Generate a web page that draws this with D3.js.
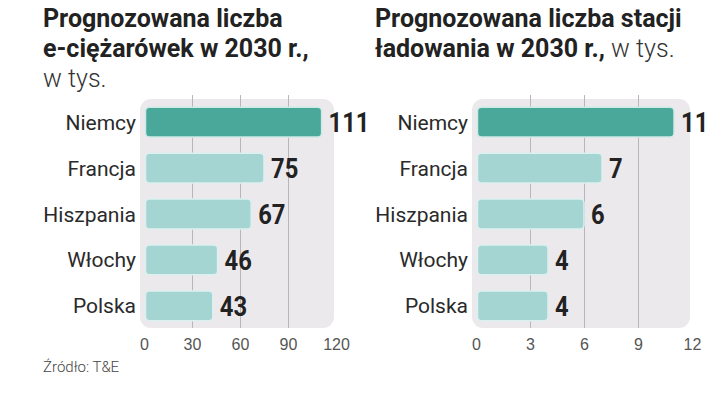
<!DOCTYPE html>
<html>
<head>
<meta charset="utf-8">
<style>
  html, body { margin: 0; padding: 0; background: #fff; }
  body { width: 720px; height: 395px; overflow: hidden; font-family: Roboto, "Noto Sans", sans-serif; }
  .title { font-size: 25px; font-weight: 700; fill: #222; }
  .title .light { font-weight: 300; fill: #333; }
  .cat { font-size: 21px; fill: #2a2a2a; }
  .val { font-family: Roboto, sans-serif; font-size: 27px; font-weight: 700; fill: #222; }
  .tick text { font-size: 16px; fill: #555; font-weight: 300; }
  .src { font-size: 15px; fill: #444; font-weight: 300; }
</style>
</head>
<body>
<script src="https://cdn.jsdelivr.net/npm/d3@7"></script>
<script>
  // data
  var countries = ["Niemcy", "Francja", "Hiszpania", "Włochy", "Polska"]
  var trucks = [111, 75, 67, 46, 43]
  var stations = [11, 7, 6, 4, 4]
  var truckTicks = [0, 30, 60, 90, 120]
  var stationTicks = [0, 3, 6, 9, 12]

  var width = 720, height = 395
  var svg = d3.select("body").append("svg")
      .attr("width", width)
      .attr("height", height)

  var y = d3.scaleBand()
      .domain(countries)
      .range([99, 329])
      .paddingInner(0.35)
      .paddingOuter(0.18)

  function panel(opts) {
    var x = d3.scaleLinear()
        .domain([0, opts.ticks[opts.ticks.length - 1]])
        .range(opts.range)

    var g = svg.append("g")

    // title
    var t = g.append("text").attr("class", "title")
    opts.title.forEach(function (line, i) {
      var ts = t.append("tspan").attr("x", opts.titleX).attr("y", 27 + i * 30)
      line.forEach(function (part) {
        ts.append("tspan").attr("class", part.light ? "light" : null).text(part.text)
      })
    })

    // background panel
    g.append("rect")
        .attr("x", x(0) - 4)
        .attr("y", 99)
        .attr("width", opts.range[1] - opts.range[0] + 2)
        .attr("height", 229)
        .attr("rx", 11)
        .attr("fill", "#ece9ed")

    // grid
    g.selectAll("line.grid")
        .data(opts.ticks.slice(1, -1))
        .enter().append("line")
        .attr("class", "grid")
        .attr("x1", d => x(d) + 0.5)
        .attr("x2", d => x(d) + 0.5)
        .attr("y1", 95)
        .attr("y2", 328)
        .attr("stroke", "#b9b6ba")
        .attr("stroke-width", 1)

    // axis
    var axis = g.append("g")
        .attr("transform", "translate(0,330)")
        .call(d3.axisBottom(x).tickValues(opts.ticks).tickSize(0).tickPadding(9))
    axis.select(".domain").remove()

    // bars
    g.selectAll("rect.bar")
        .data(opts.values)
        .enter().append("rect")
        .attr("class", "bar")
        .attr("x", x(0) + 1.5)
        .attr("y", (d, i) => y(countries[i]))
        .attr("width", d => x(d) - x(0) - 1.5)
        .attr("height", y.bandwidth())
        .attr("rx", 4)
        .attr("fill", (d, i) => i === 0 ? "#4aa89a" : "#a5d5d2")
        .attr("stroke", (d, i) => i === 0 ? "#cdeae6" : "#dcf0ef")
        .attr("stroke-width", 1.5)

    // category labels
    g.selectAll("text.cat")
        .data(countries)
        .enter().append("text")
        .attr("class", "cat")
        .attr("x", x(0) - 8)
        .attr("y", d => y(d) + y.bandwidth() / 2)
        .attr("dy", "0.36em")
        .attr("text-anchor", "end")
        .text(d => d)

    // value labels (condensed look via horizontal squeeze)
    g.selectAll("text.val")
        .data(opts.values)
        .enter().append("text")
        .attr("class", "val")
        .attr("transform", (d, i) => `translate(${x(d) + 7},${y(countries[i]) + y.bandwidth() / 2}) scale(0.88,1)`)
        .attr("dy", "0.36em")
        .text(d => d)
  }

  panel({
    values: trucks,
    ticks: truckTicks,
    range: [144, 336],
    titleX: 43,
    title: [
      [{text: "Prognozowana liczba"}],
      [{text: "e-ciężarówek w 2030 r.,"}],
      [{text: "w tys.", light: true}]
    ]
  })

  panel({
    values: stations,
    ticks: stationTicks,
    range: [476, 692],
    titleX: 375,
    title: [
      [{text: "Prognozowana liczba stacji"}],
      [{text: "ładowania w 2030 r.,"}, {text: " w tys.", light: true}]
    ]
  })

  svg.append("text")
      .attr("class", "src")
      .attr("x", 43)
      .attr("y", 372)
      .text("Źródło: T&E")
</script>
</body>
</html>
